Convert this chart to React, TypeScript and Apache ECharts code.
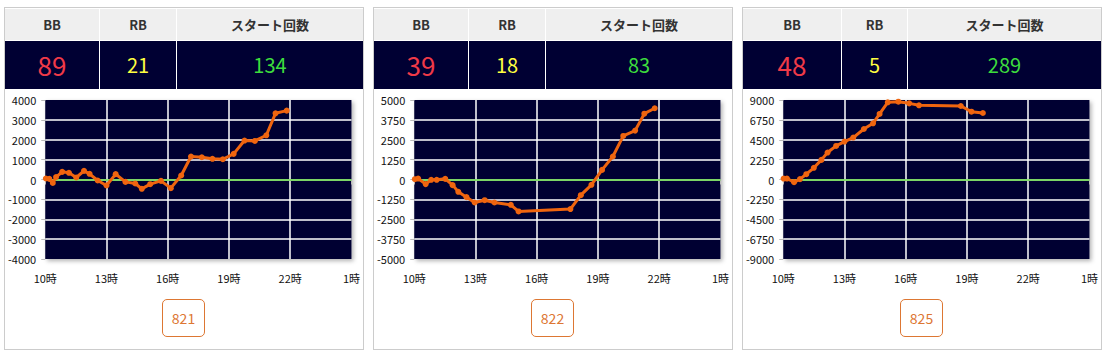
import React, { useEffect, useRef } from "react";
import * as echarts from "echarts";

const headerLabels = ["BB", "RB", "スタート回数"];
const machineIds = ["821", "822", "825"];
const bbCounts = [89, 39, 48];
const rbCounts = [21, 18, 5];
const startCounts = [134, 83, 289];

const times821 = [10.03, 10.2, 10.37, 10.53, 10.83, 11.16, 11.52, 11.9, 12.17, 12.57, 13.0, 13.45, 13.93, 14.41, 14.73, 15.14, 15.67, 16.15, 16.66, 17.14, 17.67, 18.19, 18.7, 19.23, 19.76, 20.27, 20.83, 21.28, 21.83];
const values821 = [50, 30, -170, 120, 385, 335, 100, 435, 285, -50, -300, 270, -120, -200, -470, -235, -70, -435, 200, 1155, 1120, 1040, 1020, 1290, 1960, 1940, 2225, 3330, 3465];

const times822 = [10.03, 10.19, 10.56, 10.83, 11.1, 11.52, 11.88, 12.16, 12.56, 12.96, 13.45, 13.93, 14.73, 15.11, 17.65, 18.16, 18.68, 19.2, 19.73, 20.24, 20.82, 21.27, 21.78];
const values822 = [20, 60, -290, -20, -20, 40, -355, -775, -1110, -1445, -1300, -1445, -1590, -2010, -1860, -985, -335, 605, 1445, 2740, 3075, 4140, 4480];

const times825 = [10.02, 10.18, 10.53, 10.82, 11.13, 11.5, 11.87, 12.17, 12.59, 13.0, 13.43, 13.95, 14.4, 14.72, 15.12, 15.64, 16.17, 16.65, 18.7, 19.22, 19.78];
const values825 = [110, 110, -300, 40, 600, 1320, 2220, 3050, 3800, 4290, 4745, 5720, 6360, 7420, 8735, 8810, 8620, 8400, 8320, 7680, 7530];

const yLimits = [4000, 5000, 9000];
const yIntervals = [1000, 1250, 2250];
const hourMin = 10;
const hourMax = 25;
const hourStep = 3;

const allTimes = [times821, times822, times825];
const allValues = [values821, values822, values825];
const columnWidths = [
  [94, 76, 186],
  [94, 76, 186],
  [98, 65, 193],
];

const FONT = "'Noto Sans CJK JP', 'Noto Sans', sans-serif";

function Chart({ times, values, yMax, yInterval }: { times: number[]; values: number[]; yMax: number; yInterval: number }) {
  const ref = useRef<HTMLDivElement>(null);
  useEffect(() => {
    const chart = echarts.init(ref.current!, null, { renderer: "svg" });
    chart.setOption({
      animation: false,
      grid: {
        left: 37,
        top: 11,
        width: 311,
        height: 159,
        show: true,
        backgroundColor: "#000033",
        borderWidth: 0,
        shadowColor: "rgba(0,0,0,0.3)",
        shadowBlur: 4,
        shadowOffsetX: 2,
        shadowOffsetY: 2,
      },
      xAxis: {
        type: "value",
        min: hourMin,
        max: hourMax,
        interval: hourStep,
        axisLine: { show: false },
        axisTick: { show: true, length: 5, lineStyle: { color: "#bbbbbb" } },
        axisLabel: {
          formatter: (v: number) => `${v % 24}時`,
          fontSize: 11,
          color: "#111",
          margin: 13,
          fontFamily: FONT,
        },
        splitLine: { show: true, showMinLine: false, showMaxLine: false, lineStyle: { color: "#ffffff", width: 1.5 } },
      },
      yAxis: {
        type: "value",
        min: -yMax,
        max: yMax,
        interval: yInterval,
        axisLine: { show: false },
        axisTick: { show: true, length: 4, lineStyle: { color: "#bbbbbb" } },
        axisLabel: { fontSize: 11, color: "#111", margin: 9, fontFamily: FONT, formatter: (v: number) => String(v) },
        splitLine: { show: true, showMinLine: false, showMaxLine: false, lineStyle: { color: "#ffffff", width: 1.5 } },
      },
      series: [
        {
          type: "line",
          data: times.map((t, i) => [t, values[i]]),
          symbol: "circle",
          symbolSize: 6,
          z: 3,
          lineStyle: { color: "#f0650f", width: 3 },
          itemStyle: { color: "#f0650f" },
          markLine: {
            silent: true,
            symbol: "none",
            z: 1,
            label: { show: false },
            lineStyle: { color: "#66dd44", width: 1.5, type: "solid" },
            data: [{ yAxis: 0 }],
          },
        },
      ],
    });
    return () => chart.dispose();
  }, []);
  return <div ref={ref} style={{ position: "absolute", left: 0, top: 81, width: 358, height: 205 }} />;
}

function Panel({ idx }: { idx: number }) {
  const widths = columnWidths[idx];
  const lefts = [0, widths[0] + 1, widths[0] + widths[1] + 2];
  const nums = [bbCounts[idx], rbCounts[idx], startCounts[idx]];
  const numColors = ["#f03a48", "#ffff40", "#3ddc3d"];
  return (
    <div
      style={{
        position: "absolute",
        left: 4 + idx * 369,
        top: 7,
        width: 358,
        height: 341,
        border: "1px solid #cccccc",
        background: "#fff",
      }}
    >
      {headerLabels.map((h, i) => (
        <div
          key={"h" + i}
          style={{
            position: "absolute",
            left: lefts[i],
            top: 1,
            width: widths[i],
            height: 31,
            background: "#efefef",
            color: "#333",
            fontFamily: FONT,
            fontWeight: "bold",
            fontSize: 13,
            lineHeight: "31px",
            textAlign: "center",
          }}
        >
          {h}
        </div>
      ))}
      {nums.map((n, i) => (
        <div
          key={"n" + i}
          style={{
            position: "absolute",
            left: lefts[i],
            top: 33,
            width: widths[i],
            height: 48,
            background: "#000033",
            color: numColors[i],
            fontFamily: FONT,
            fontSize: i === 0 ? 26 : 20,
            lineHeight: "48px",
            textAlign: "center",
          }}
        >
          {n}
        </div>
      ))}
      <Chart times={allTimes[idx]} values={allValues[idx]} yMax={yLimits[idx]} yInterval={yIntervals[idx]} />
      <div
        style={{
          position: "absolute",
          left: 157,
          top: 291,
          width: 41,
          height: 36,
          border: "1px solid #dd7733",
          borderRadius: 5,
          color: "#dd7733",
          fontFamily: FONT,
          fontSize: 14,
          lineHeight: "36px",
          textAlign: "center",
        }}
      >
        {machineIds[idx]}
      </div>
    </div>
  );
}

export default function App() {
  return (
    <div style={{ position: "absolute", left: 0, top: 0, width: 1107, height: 355, background: "#fff" }}>
      {[0, 1, 2].map((i) => (
        <Panel key={i} idx={i} />
      ))}
    </div>
  );
}
